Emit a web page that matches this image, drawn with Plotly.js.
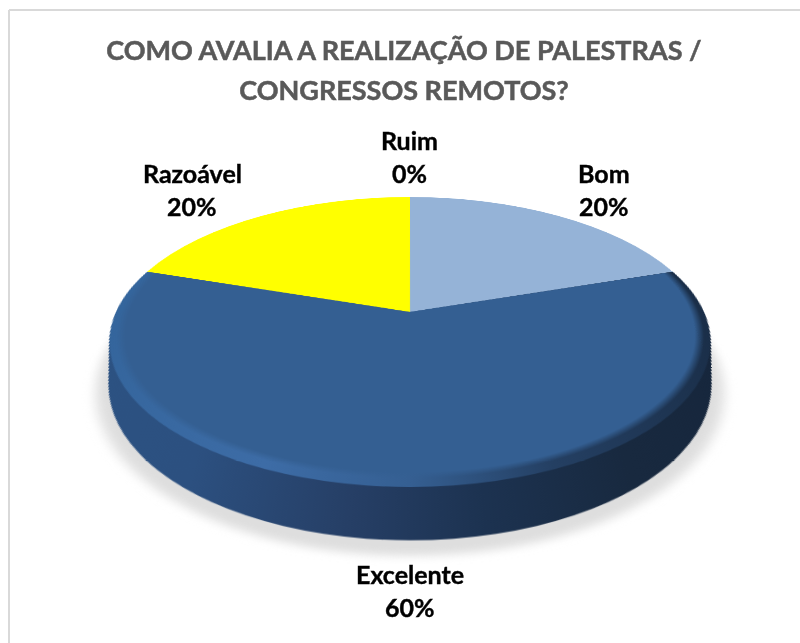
<!DOCTYPE html>
<html><head><meta charset="utf-8">
<script src="https://cdn.plot.ly/plotly-3.0.1.min.js"></script>
<style>html,body{margin:0;padding:0;background:#fff}#chart{width:800px;height:643px}
#chart .gtitle,#chart .annotation-text{paint-order:stroke}</style>
</head><body><div id="chart"></div>
<script>
const categories = ['Bom', 'Excelente', 'Razoável', 'Ruim'];
const values = [20, 60, 20, 0];
const sliceColors = ['#95b3d7', '#345f92', '#ffff00', '#8064a2'];
const titleLines = 'COMO AVALIA A REALIZAÇÃO DE PALESTRAS /<br>CONGRESSOS REMOTOS?';
const labelPlaces = {Bom:[604,173], Excelente:[410,574], 'Razoável':[192,173.5], Ruim:[410,140]};
const lineGap = 32.5;

// Flat plane of the pie (before the perspective tilt)
const W = 800, H = 643, R = 250, pcx = 400, pcy = 290;
function dom(cx, cy, r){
  return {x:[(cx-r)/W,(cx+r)/W], y:[1-(cy+r)/H,1-(cy-r)/H]};
}
function pie(cy, r, colors, name){
  return {type:'pie', labels:categories, values:values, sort:false, direction:'clockwise',
    rotation:0, textinfo:'none', hoverinfo:'none', showlegend:false, name:name,
    marker:{colors:colors, line:{width:0}}, domain:dom(pcx, cy, r)};
}
const traces = [];
const depth = 71, taper = 0.2;
traces.push(pie(pcy+78, R-6, ['#000','#000','#000','#000'], 'shadow'));
for(let d = depth; d >= 1; d -= 1.5){
  traces.push(pie(pcy+d, R-taper*d, ['#223a5e','#223a5e','#223a5e','#223a5e'], 'wall'));
}
traces.push(pie(pcy, R, sliceColors, 'top'));
traces.push(pie(pcy, R, ['rgba(0,0,0,0)','#345f92','rgba(0,0,0,0)','rgba(0,0,0,0)'], 'flat'));

const annotations = [];
categories.forEach((c,i)=>{
  const [x,y] = labelPlaces[c];
  const base = {xref:'paper',yref:'paper',x:x/W,showarrow:false,xanchor:'center',yanchor:'middle',
    font:{family:'Lato, Carlito, sans-serif',size:25,color:'#000'}};
  annotations.push(Object.assign({},base,{y:1-y/H,text:'<b>'+c+'</b>'}));
  annotations.push(Object.assign({},base,{y:1-(y+lineGap)/H,text:'<b>'+values[i]+'%</b>'}));
});

const layout = {
  width:W, height:H, margin:{l:0,r:0,t:0,b:0},
  paper_bgcolor:'rgba(0,0,0,0)', plot_bgcolor:'rgba(0,0,0,0)',
  title:{text:'<b>'+titleLines+'</b>', x:404/W, xanchor:'center', y:1-65/H, yanchor:'middle',
    font:{family:'Lato, Carlito, sans-serif',size:27,color:'#595959'}},
  annotations:annotations,
  shapes:[{type:'line',xref:'paper',yref:'paper',x0:9/W,x1:1,y0:1-10/H,y1:1-10/H,line:{color:'#d9d9d9',width:2},layer:'above'},
          {type:'line',xref:'paper',yref:'paper',x0:9/W,x1:9/W,y0:0,y1:1-10/H,line:{color:'#d9d9d9',width:2},layer:'above'}]
};

Plotly.newPlot('chart', traces, layout, {displayModeBar:false, staticPlot:true}).then(()=>{
  const svg = document.querySelector('#chart svg.main-svg');
  const NS = 'http://www.w3.org/2000/svg';
  const defs = document.createElementNS(NS,'defs');
  const x1 = pcx-R, x2 = pcx+R;
  const span = 'gradientUnits="userSpaceOnUse" x1="'+x1+'" x2="'+x2+'" y1="0" y2="0"';
  defs.innerHTML =
   '<linearGradient id="wallG" '+span+'>'+
     '<stop offset="0" stop-color="#2c5282"/><stop offset="0.2" stop-color="#2c5080"/><stop offset="0.42" stop-color="#263f66"/>'+
     '<stop offset="0.6" stop-color="#1c3250"/><stop offset="0.8" stop-color="#18293f"/><stop offset="1" stop-color="#16263c"/></linearGradient>'+
   '<linearGradient id="bevelG" '+span+'>'+
     '<stop offset="0" stop-color="#34659c"/><stop offset="0.3" stop-color="#3d6ca6"/><stop offset="0.5" stop-color="#355f92"/>'+
     '<stop offset="0.7" stop-color="#243f62"/><stop offset="1" stop-color="#1a2e48"/></linearGradient>'+
   '<radialGradient id="flatG" gradientUnits="userSpaceOnUse" cx="'+pcx+'" cy="'+(pcy-6)+'" r="'+(R-4)+'">'+
     '<stop offset="0.97" stop-color="#345f92" stop-opacity="1"/><stop offset="1" stop-color="#345f92" stop-opacity="0"/></radialGradient>'+
   '<filter id="blurF" x="-20%" y="-20%" width="140%" height="140%"><feGaussianBlur stdDeviation="4"/></filter>';
  svg.appendChild(defs);
  const groups = document.querySelectorAll('#chart .pielayer .trace');
  groups.forEach((g,i)=>{
    const paths = g.querySelectorAll('.slice path.surface');
    if(i===0){ paths.forEach(p=>{p.style.fill='#dedede';}); g.style.filter='url(#blurF)'; }
    else if(i<groups.length-2){ paths.forEach(p=>{p.style.fill='url(#wallG)';}); }
    else if(i===groups.length-2){ paths[1].style.fill='url(#bevelG)'; }
    else { paths[1].style.fill='url(#flatG)'; }
  });
  document.querySelectorAll('#chart .gtitle').forEach(e=>{e.style.stroke='#595959';e.style.strokeWidth='0.5px';});
  const firstLine = document.querySelector('#chart .gtitle tspan.line');
  if(firstLine) firstLine.setAttribute('dy','-5px');
  document.querySelectorAll('#chart .annotation-text').forEach(e=>{e.style.stroke='#000';e.style.strokeWidth='0.4px';});
  // Perspective tilt of the pie layer only
  const k=0.207, t=138.8, s=294, ox=410, oy=312;
  const f=-k/R, w0=1+k*pcy/R;
  const m=[s/R,0,0,0, ox*f,oy*f+t/R,0,f, 0,0,1,0, ox*w0-s*pcx/R, oy*w0-t*pcy/R,0,w0];
  svg.style.transformOrigin='0 0';
  svg.style.transform='matrix3d('+m.join(',')+')';
  svg.style.overflow='visible';
});
</script></body></html>
